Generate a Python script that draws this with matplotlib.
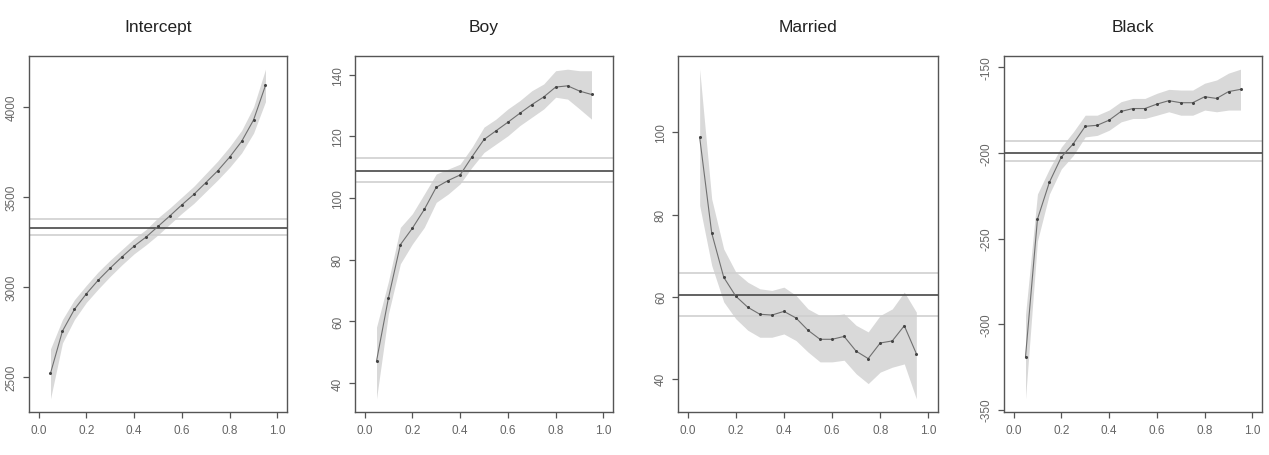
import numpy as np
import matplotlib
matplotlib.use("Agg")
from matplotlib import pyplot as plt

plt.rcParams['font.family'] = ['Liberation Sans', 'DejaVu Sans']

#---------------- data (quantile regression coefficients) ----------------
taus = [0.05, 0.10, 0.15, 0.20, 0.25, 0.30, 0.35, 0.40, 0.45, 0.50,
        0.55, 0.60, 0.65, 0.70, 0.75, 0.80, 0.85, 0.90, 0.95]

titles = ["Intercept", "Boy", "Married", "Black"]

intercept_coef = [2522, 2756, 2876, 2963, 3039, 3106, 3169, 3228, 3278, 3337,
                  3396, 3457, 3515, 3580, 3646, 3722, 3809, 3928, 4120]
intercept_lo = [2380, 2690, 2820, 2915, 2990, 3060, 3125, 3185, 3235, 3290,
                3350, 3410, 3465, 3530, 3595, 3665, 3745, 3855, 4030]
intercept_hi = [2657, 2820, 2930, 3010, 3085, 3150, 3210, 3270, 3320, 3385,
                3440, 3500, 3560, 3630, 3700, 3780, 3870, 4000, 4210]
intercept_ols = [3330, 3291, 3378]

boy_coef = [47.1, 67.6, 84.9, 90.2, 96.3, 103.5, 105.7, 107.5, 113.4, 119.0,
            121.8, 124.6, 127.5, 130.3, 132.8, 136.0, 136.4, 134.7, 133.6]
boy_lo = [34.9, 62.5, 78.7, 85.1, 90.5, 98.6, 101.3, 104.6, 110.0, 114.8,
          117.5, 120.2, 123.5, 126.2, 128.9, 132.7, 132.1, 128.9, 125.6]
boy_hi = [58.1, 73.0, 90.5, 94.9, 101.3, 107.8, 109.4, 111.0, 116.5, 123.0,
          125.6, 128.9, 131.6, 134.8, 137.0, 141.3, 141.8, 141.3, 141.3]
boy_ols = [108.9, 105.2, 112.9]

married_coef = [98.8, 75.5, 64.7, 60.1, 57.4, 55.7, 55.5, 56.4, 54.8, 51.8,
                49.6, 49.6, 50.3, 46.7, 44.9, 48.7, 49.2, 52.9, 46.1]
married_lo = [82.2, 67.6, 58.7, 54.6, 51.8, 50.1, 50.1, 50.9, 49.3, 46.5,
              44.1, 44.1, 44.5, 41.2, 38.8, 41.6, 42.8, 43.6, 35.1]
married_hi = [115.4, 83.8, 71.6, 66.0, 63.5, 61.9, 61.5, 62.3, 60.3, 57.0,
              55.4, 55.4, 55.8, 53.0, 51.4, 55.4, 57.0, 61.1, 56.2]
married_ols = [60.4, 55.2, 65.8]

black_coef = [-319.2, -238.7, -217.1, -202.4, -194.6, -184.4, -183.8, -180.8, -175.7, -174.0,
              -174.0, -171.4, -169.4, -170.6, -170.6, -167.1, -168.1, -164.1, -162.8]
black_lo = [-343.7, -251.5, -224.0, -209.3, -201.4, -190.6, -189.7, -186.7, -181.8, -179.8,
            -179.8, -177.9, -175.9, -177.9, -177.9, -174.9, -175.9, -174.9, -174.9]
black_hi = [-294.7, -224.0, -209.3, -196.5, -187.7, -177.9, -177.9, -174.9, -170.0, -168.1,
            -168.1, -165.1, -162.8, -163.2, -163.2, -159.2, -157.3, -153.3, -151.0]
black_ols = [-199.9, -204.8, -193.2]

coefs = [intercept_coef, boy_coef, married_coef, black_coef]
lows = [intercept_lo, boy_lo, married_lo, black_lo]
highs = [intercept_hi, boy_hi, married_hi, black_hi]
ols = [intercept_ols, boy_ols, married_ols, black_ols]
yticks = [[2500, 3000, 3500, 4000], [40, 60, 80, 100, 120, 140],
          [40, 60, 80, 100], [-350, -300, -250, -200, -150]]
#--------------------------------------------------------------------------

fig = plt.figure(figsize=(12.69, 4.56), dpi=100)
W, H = 1269.0, 456.0
lefts = [29, 355, 678, 1004]
rights = [287, 613, 938, 1262]
top, bottom = 57, 413

for i in range(4):
    ax = fig.add_axes([lefts[i] / W, (H - bottom) / H,
                       (rights[i] - lefts[i]) / W, (bottom - top) / H])
    lo, hi, c = lows[i], highs[i], coefs[i]
    ax.fill_between(taus, lo, hi, color="#d9d9d9", lw=0, zorder=1)
    ax.plot(taus, c, color="#707070", lw=0.8, zorder=3)
    ax.plot(taus, c, ls="none", marker="o", ms=1.2, color="#444444", zorder=4)
    ax.axhline(ols[i][0], color="#555555", lw=1.3, zorder=2)
    ax.axhline(ols[i][1], color="#cfcfcf", lw=1.2, zorder=2)
    ax.axhline(ols[i][2], color="#cfcfcf", lw=1.2, zorder=2)

    # R-style ranges: 4% padding
    ymin = min(min(lo), ols[i][1])
    ymax = max(max(hi), ols[i][2])
    pad = (ymax - ymin) * 0.04
    ax.set_ylim(ymin - pad, ymax + pad)
    ax.set_xlim(-0.04, 1.04)

    ax.set_xticks([0.0, 0.2, 0.4, 0.6, 0.8, 1.0])
    ax.set_xticklabels(["0.0", "0.2", "0.4", "0.6", "0.8", "1.0"])
    ax.set_yticks(yticks[i])
    ax.set_yticklabels([str(v) for v in yticks[i]], rotation=90, va="center")
    ax.tick_params(colors="#555555", labelcolor="#666666", labelsize=8.5,
                   length=4, width=0.9, direction="out")
    ax.tick_params(axis="x", pad=5)
    ax.tick_params(axis="y", pad=4)
    for s in ax.spines.values():
        s.set_color("#555555")
        s.set_linewidth(1.0)
    ax.set_title(titles[i], fontsize=12.5, color="#222222", pad=18)

fig.savefig("out.png", dpi=100)
